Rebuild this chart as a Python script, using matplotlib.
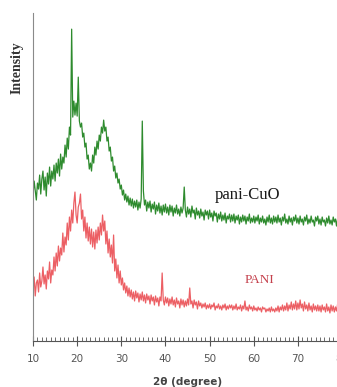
import matplotlib.pyplot as plt
import numpy as np

# XRD scan, 2-theta from 10 to 80 deg, 0.25 deg step
two_theta = np.arange(10, 80.001, 0.25)

pani_cuo = [
    146, 160, 150, 141, 158, 152, 166, 147, 162, 170, 151, 164, 145, 168, 157, 174, 155, 170, 162, 176,
    160, 178, 168, 182, 165, 187, 172, 184, 178, 196, 184, 203, 192, 214, 206, 312, 224, 240, 226, 238,
    225, 264, 220, 214, 218, 204, 208, 194, 198, 182, 186, 172, 178, 170, 186, 178, 194, 186, 200, 192,
    206, 200, 214, 208, 221, 210, 214, 200, 204, 190, 194, 180, 184, 170, 175, 163, 168, 158, 162, 152,
    156, 146, 151, 141, 147, 139, 145, 136, 143, 135, 142, 133, 140, 134, 141, 131, 139, 133, 142, 220,
    150, 136, 141, 130, 139, 133, 140, 129, 137, 132, 139, 127, 136, 130, 138, 128, 135, 126, 136, 129,
    137, 128, 134, 126, 136, 129, 135, 125, 133, 128, 136, 127, 132, 125, 134, 128, 133, 154, 131, 124,
    134, 127, 132, 124, 135, 128, 131, 122, 133, 126, 130, 123, 132, 125, 129, 121, 131, 126, 130, 122,
    131, 124, 128, 120, 130, 125, 128, 119, 127, 122, 129, 120, 126, 121, 128, 118, 125, 122, 127, 119,
    126, 120, 127, 118, 125, 121, 126, 117, 124, 119, 126, 120, 125, 117, 124, 120, 127, 118, 123, 119,
    125, 118, 124, 120, 126, 117, 123, 119, 125, 118, 122, 116, 124, 119, 126, 118, 123, 117, 125, 119,
    124, 118, 126, 119, 123, 116, 124, 120, 127, 118, 122, 117, 125, 119, 123, 116, 124, 120, 126, 118,
    123, 117, 125, 119, 122, 116, 124, 120, 126, 117, 122, 118, 125, 119, 121, 115, 124, 120, 125, 117,
    122, 116, 124, 119, 121, 115, 123, 118, 125, 117, 121, 116, 124, 119, 122, 115, 123, 118, 121, 116,
    122,
]

pani = [
    50, 64, 45, 58, 61, 49, 68, 54, 60, 74, 57, 66, 52, 70, 62, 79, 58, 71, 66, 84,
    70, 88, 75, 95, 80, 93, 86, 108, 89, 104, 96, 118, 101, 124, 110, 131, 118, 138, 149, 126,
    118, 134, 138, 147, 122, 131, 110, 124, 103, 118, 100, 114, 97, 112, 94, 109, 92, 111, 98, 114,
    101, 118, 106, 126, 110, 120, 97, 110, 88, 102, 84, 96, 78, 106, 70, 82, 63, 76, 58, 70,
    56, 63, 51, 58, 48, 55, 45, 53, 44, 51, 42, 49, 40, 50, 43, 48, 39, 47, 41, 49,
    40, 46, 38, 47, 41, 45, 37, 46, 40, 44, 36, 45, 39, 43, 35, 44, 40, 68, 41, 36,
    44, 38, 43, 35, 42, 37, 44, 36, 41, 34, 43, 37, 40, 33, 42, 36, 41, 34, 40, 35,
    42, 36, 53, 37, 40, 33, 41, 36, 39, 32, 40, 35, 38, 33, 37, 34, 38, 32, 36, 33,
    37, 32, 36, 34, 38, 31, 35, 33, 37, 32, 35, 31, 36, 33, 37, 31, 35, 32, 36, 33,
    36, 31, 35, 32, 37, 31, 34, 32, 36, 30, 35, 32, 40, 31, 34, 30, 36, 32, 34, 30,
    35, 31, 33, 30, 34, 31, 33, 29, 34, 32, 33, 29, 32, 30, 33, 29, 34, 30, 32, 29,
    33, 30, 35, 29, 34, 31, 36, 30, 35, 31, 38, 30, 36, 32, 39, 31, 37, 32, 40, 31,
    38, 32, 41, 33, 37, 30, 39, 32, 36, 30, 38, 31, 35, 29, 37, 31, 35, 30, 36, 30,
    35, 29, 36, 31, 34, 29, 37, 30, 34, 28, 36, 30, 35, 29, 34, 30, 37, 29, 35, 30,
    34,
]

serif = ['Liberation Serif', 'DejaVu Serif']
narrow = ['Liberation Sans Narrow', 'DejaVu Sans']

fig = plt.figure(figsize=(3.37, 3.87), dpi=100)
ax = fig.add_axes([0.098, 0.119, 0.917, 0.847])

ax.plot(two_theta, pani_cuo, color='#2e8b2e', lw=0.9)
ax.plot(two_theta, pani, color='#ec5f64', lw=0.9)

ax.set_xlim(10, 80)
ax.set_ylim(0, 328)
ax.set_xticks(np.arange(10, 81, 10))
ax.set_xticks(np.arange(10, 80.5, 1), minor=True)
ax.set_yticks([])

for s in ['top', 'right']:
    ax.spines[s].set_visible(False)
ax.spines['left'].set_color('#8a8a8a')
ax.spines['bottom'].set_color('#555555')

ax.tick_params(axis='x', which='major', direction='inout', length=7, width=0.8,
               color='#555555', labelcolor='#555555', labelsize=7.5, pad=6)
ax.tick_params(axis='x', which='minor', direction='in', length=3, width=0.6, color='#555555')
for lab in ax.get_xticklabels():
    lab.set_family(narrow)

ax.set_xlabel('2θ (degree)', family=narrow, fontsize=7.5, fontweight='bold',
              color='#444444', labelpad=9)
fig.text(0.05, 0.825, 'Intensity', rotation=90, family=serif, fontsize=10,
         fontweight='bold', ha='center', va='center', color='#333333')

ax.text(58.5, 142, 'pani-CuO', family=serif, fontsize=12, color='#1a1a1a',
        ha='center', va='baseline')
ax.text(61.4, 58, 'PANI', family=serif, fontsize=9.5, color='#c4404c',
        ha='center', va='baseline')

fig.savefig('out.png', dpi=100)
